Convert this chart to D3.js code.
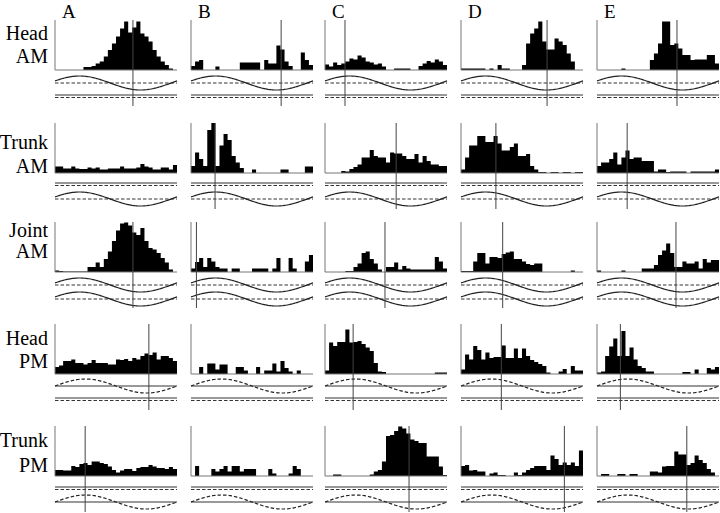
<!DOCTYPE html>
<html>
<head>
<meta charset="utf-8">
<script src="https://cdn.jsdelivr.net/npm/d3@7"></script>
<style>
  body { margin: 0; background: #fff; }
</style>
</head>
<body>
<svg id="chart" width="720" height="513"></svg>
<script>
// columns / rows
const columns = ['A', 'B', 'C', 'D', 'E']
const rowLabels = [['Head', 'AM'], ['Trunk', 'AM'], ['Joint', 'AM'], ['Head', 'PM'], ['Trunk', 'PM']]

// spike phase histograms, 30 bins per cycle, height in % of panel
const headAM = [
  [0,0,0,0,0,0,0,6,6,8,13,17,27,40,53,67,83,97,75,85,97,73,67,57,40,27,17,10,3,0],
  [8,17,20,0,0,0,7,0,0,0,0,0,15,15,15,15,15,0,20,13,13,49,41,17,8,0,0,35,20,10],
  [11,7,15,10,13,17,23,21,29,25,17,15,11,13,7,0,0,3,3,3,3,0,0,8,13,18,15,21,17,10],
  [3,3,3,3,3,3,0,3,0,10,3,3,0,0,0,10,53,73,83,97,57,41,41,63,57,50,33,17,0,0],
  [0,0,0,0,0,0,3,0,0,0,0,0,0,20,33,53,97,97,50,53,43,30,30,20,21,21,21,30,30,13]
]
const trunkAM = [
  [13,13,9,9,13,9,8,8,11,9,11,7,7,9,9,9,13,9,9,9,11,18,13,11,7,7,11,11,7,16],
  [14,41,28,14,86,100,14,55,78,66,34,21,10,0,0,7,0,0,0,0,0,0,7,7,0,0,0,0,13,13],
  [0,0,0,0,4,3,8,12,17,31,31,46,34,31,31,21,41,39,39,34,28,28,38,21,34,24,17,17,14,14],
  [7,31,55,55,74,74,62,62,74,59,45,45,52,59,34,34,38,14,7,2,2,0,2,2,0,2,2,0,2,2],
  [14,21,21,28,41,17,31,45,28,31,31,24,24,24,3,7,7,2,3,3,3,3,0,3,3,3,3,3,3,7]
]
const jointAM = [
  [3,2,1,1,1,1,1,1,10,10,19,10,26,41,62,83,97,99,93,79,74,88,62,48,45,38,28,19,5,0],
  [7,20,28,10,28,21,10,7,7,0,7,7,0,0,0,7,7,7,7,0,7,28,0,0,28,7,0,0,21,34],
  [0,0,0,0,0,2,2,10,17,38,41,26,17,5,0,10,10,19,5,12,7,5,5,5,5,5,5,30,21,7],
  [2,2,2,21,38,38,17,30,30,28,36,39,41,26,26,21,16,14,17,17,0,0,0,0,0,0,0,3,0,0],
  [3,0,0,0,0,0,3,0,0,0,0,7,7,7,14,34,43,57,38,10,10,21,17,17,21,7,26,19,24,24]
]
const headPM = [
  [14,17,26,26,29,22,22,19,22,28,22,22,22,19,19,29,28,30,26,32,29,36,41,38,43,29,36,36,32,26],
  [0,0,14,0,21,21,9,19,19,0,0,14,14,7,0,0,14,0,7,7,21,5,26,12,5,0,7,0,0,0],
  [7,63,56,64,64,89,63,64,66,60,53,46,22,5,4,0,0,0,0,0,0,0,0,0,0,0,0,3,3,3],
  [9,39,29,56,48,29,43,32,34,34,57,32,32,51,32,51,36,28,24,20,16,3,0,0,5,10,0,16,7,7],
  [3,5,36,55,71,36,86,36,53,29,16,12,5,5,0,0,0,0,0,0,0,4,4,0,9,0,0,12,9,14]
]
const trunkPM = [
  [12,12,11,11,20,18,24,26,22,29,29,26,24,19,12,7,11,14,14,10,16,18,18,22,19,16,16,14,18,14],
  [0,20,0,0,0,14,9,14,20,9,20,20,9,14,14,14,0,0,0,14,5,0,0,0,5,20,14,0,0,0],
  [0,0,3,3,0,0,0,0,0,0,0,3,9,12,29,80,82,90,99,95,85,73,70,66,66,39,39,39,19,2],
  [20,22,11,12,9,9,0,5,7,2,2,0,0,7,2,7,12,16,20,20,20,12,41,34,22,27,22,27,20,51],
  [0,4,4,0,0,4,4,0,4,4,0,0,0,9,9,7,19,20,20,49,43,43,22,26,41,32,26,14,7,0]
]
const histograms = [headAM, trunkAM, jointAM, headPM, trunkPM]

// mean phase (degrees of the cycle), null = not shown
const meanPhase = [
  [230, 266, 59, 254, 236],
  [null, 71, 210, 103, 89],
  [230, 16, 177, 123, 233],
  [277, null, 83, 119, 69],
  [89, null, 248, 305, 265]
]

// stimulus traces under each row: sine = solid wave, dsine = dashed wave, flat = no modulation
const traces = [
  [{ type: 'sine', dy: 13 }, { type: 'flat', dy: 25 }],
  [{ type: 'flat', dy: 10 }, { type: 'sine', dy: 26 }],
  [{ type: 'sine', dy: 13 }, { type: 'sine', dy: 27 }],
  [{ type: 'dsine', dy: 12 }, { type: 'flat', dy: 24 }],
  [{ type: 'flat', dy: 11 }, { type: 'dsine', dy: 26 }]
]

// layout
const colX = [55, 191, 325, 461, 597]
const rowBase = [70, 173, 272, 374, 476]
const labelDy = [[-30, -7], [-24, 0], [-35, -14], [-29, -6], [-29, -4]]
const panelW = 122
const panelH = 50
const amp = 7
const markerEnd = 36
const nBins = 30
const serif = '"Liberation Serif", "DejaVu Serif", "Times New Roman", serif'

const svg = d3.select('#chart')

// column letters
svg.selectAll('text.col')
  .data(columns)
  .enter()
  .append('text')
  .attr('class', 'col')
  .attr('x', (d, i) => colX[i] + 7)
  .attr('y', 18)
  .attr('font-family', serif)
  .attr('font-size', 19)
  .text(d => d)

// row labels
rowLabels.forEach((lines, r) => {
  svg.selectAll('text.row' + r)
    .data(lines)
    .enter()
    .append('text')
    .attr('class', 'row' + r)
    .attr('x', 48)
    .attr('y', (d, k) => rowBase[r] + labelDy[r][k])
    .attr('text-anchor', 'end')
    .attr('font-family', serif)
    .attr('font-size', 20)
    .text(d => d)
})

const y = d3.scaleLinear().domain([0, 100])
const wave = d3.line().x(d => d[0]).y(d => d[1])

histograms.forEach((rowData, r) => {
  const base = rowBase[r]
  y.range([base, base - panelH])

  rowData.forEach((counts, c) => {
    const x0 = colX[c]
    const x = d3.scaleLinear().domain([0, nBins]).range([x0, x0 + panelW])
    const phase = d3.scaleLinear().domain([0, 360]).range([x0, x0 + panelW])
    const g = svg.append('g')

    // bars, drawn as one stepped outline so adjacent bins have no seams
    const bins = counts.map((v, i) => [i, v]).concat([[nBins, counts[nBins - 1]]])
    const bars = d3.area()
      .curve(d3.curveStepAfter)
      .x(d => x(d[0]))
      .y0(y(0))
      .y1(d => y(d[1]))
    g.append('path')
      .attr('d', bars(bins))
      .attr('fill', '#000')

    // axes
    g.append('line')
      .attr('x1', x0).attr('x2', x0)
      .attr('y1', y(100)).attr('y2', y(0))
      .attr('stroke', '#777').attr('stroke-width', 1)
    g.append('line')
      .attr('x1', x0).attr('x2', x0 + panelW)
      .attr('y1', y(0)).attr('y2', y(0))
      .attr('stroke', '#777').attr('stroke-width', 1)

    // stimulus traces
    traces[r].forEach(t => {
      const yc = base + t.dy
      if (t.type === 'flat') {
        g.append('line')
          .attr('x1', x0).attr('x2', x0 + panelW)
          .attr('y1', yc).attr('y2', yc)
          .attr('stroke', '#333').attr('stroke-width', 1)
        g.append('line')
          .attr('x1', x0).attr('x2', x0 + panelW)
          .attr('y1', yc + 2.5).attr('y2', yc + 2.5)
          .attr('stroke', '#333').attr('stroke-width', 1)
          .attr('stroke-dasharray', '3.5,2')
      } else {
        const dashed = t.type === 'dsine'
        const phi = dashed ? 0 : 0.3
        const pts = d3.range(0, 361, 4).map(p => [phase(p), yc - amp * Math.sin(p * Math.PI / 180 + phi)])
        g.append('line')
          .attr('x1', x0).attr('x2', x0 + panelW)
          .attr('y1', yc).attr('y2', yc)
          .attr('stroke', '#333').attr('stroke-width', 1)
          .attr('stroke-dasharray', dashed ? null : '3.5,2')
        g.append('path')
          .attr('d', wave(pts))
          .attr('fill', 'none')
          .attr('stroke', '#222').attr('stroke-width', 1.2)
          .attr('stroke-dasharray', dashed ? '3.5,2' : null)
      }
    })

    // mean phase marker
    const m = meanPhase[r][c]
    if (m !== null) {
      g.append('line')
        .attr('x1', phase(m)).attr('x2', phase(m))
        .attr('y1', y(100)).attr('y2', base + markerEnd)
        .attr('stroke', '#444').attr('stroke-width', 1)
    }
  })
})
</script>
</body>
</html>
